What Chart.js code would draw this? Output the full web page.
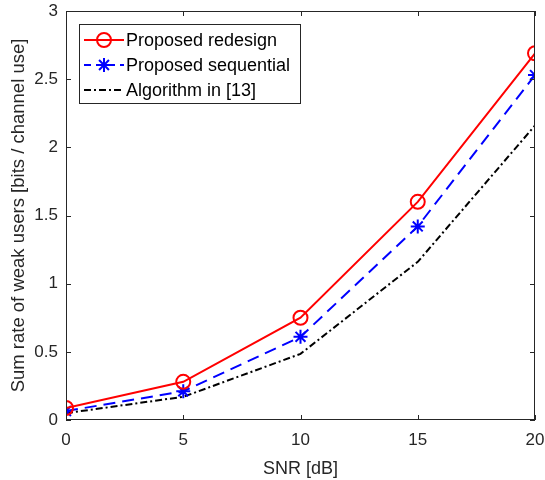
<!DOCTYPE html>
<html>
<head>
<meta charset="utf-8">
<script src="https://cdn.jsdelivr.net/npm/chart.js@4.4.1/dist/chart.umd.min.js"></script>
<style>
  html, body { margin: 0; padding: 0; background: #fff; }
  #wrap { width: 545px; height: 480px; }
</style>
</head>
<body>
<div id="wrap"><canvas id="snrChart"></canvas></div>
<script>
  const snr = [0, 5, 10, 15, 20];
  const proposedRedesign = [0.088, 0.28, 0.75, 1.60, 2.69];
  const proposedSequential = [0.066, 0.21, 0.61, 1.42, 2.53];
  const algorithm13 = [0.05, 0.17, 0.485, 1.16, 2.16];
  const xTicks = [0, 5, 10, 15, 20];
  const yTicks = [0, 0.5, 1, 1.5, 2, 2.5, 3];

  const axisColor = "#262626";
  const fontFamily = "'Liberation Sans', Arial, sans-serif";

  function toPoints(values) {
    return snr.map((x, i) => ({ x: x, y: values[i] }));
  }

  // box round the axes with ticks pointing inward on all four sides
  const boxPlugin = {
    id: "matlabBox",
    afterDraw(chart) {
      const { ctx, chartArea } = chart;
      const xs = chart.scales.x;
      const ys = chart.scales.y;
      const len = 5;
      ctx.save();
      ctx.strokeStyle = axisColor;
      ctx.lineWidth = 1;
      ctx.strokeRect(chartArea.left + 0.5, chartArea.top + 0.5,
        chartArea.right - chartArea.left - 1, chartArea.bottom - chartArea.top - 1);
      ctx.beginPath();
      xTicks.forEach(v => {
        const px = Math.round(xs.getPixelForValue(v)) + 0.5;
        ctx.moveTo(px, chartArea.bottom);
        ctx.lineTo(px, chartArea.bottom - len);
        ctx.moveTo(px, chartArea.top);
        ctx.lineTo(px, chartArea.top + len);
      });
      yTicks.forEach(v => {
        const py = Math.round(ys.getPixelForValue(v)) + 0.5;
        ctx.moveTo(chartArea.left, py);
        ctx.lineTo(chartArea.left + len, py);
        ctx.moveTo(chartArea.right, py);
        ctx.lineTo(chartArea.right - len, py);
      });
      ctx.stroke();
      ctx.restore();
    }
  };

  const legendPlugin = {
    id: "matlabLegend",
    afterDraw(chart) {
      const { ctx } = chart;
      const left = 79, top = 24, width = 221, height = 79;
      ctx.save();
      ctx.fillStyle = "#fff";
      ctx.fillRect(left, top, width, height);
      ctx.strokeStyle = axisColor;
      ctx.lineWidth = 1;
      ctx.strokeRect(left + 0.5, top + 0.5, width, height);

      const rows = [40, 65, 90];
      chart.data.datasets.forEach((ds, i) => {
        const y = rows[i];
        ctx.save();
        ctx.strokeStyle = ds.borderColor;
        ctx.lineWidth = ds.borderWidth;
        ctx.setLineDash(ds.legendDash || ds.borderDash || []);
        ctx.beginPath();
        ctx.moveTo(84, y);
        ctx.lineTo(124, y);
        ctx.stroke();
        ctx.setLineDash([]);
        if (ds.pointRadius > 0) {
          ctx.fillStyle = ds.pointBackgroundColor;
          ctx.lineWidth = ds.pointBorderWidth;
          ctx.strokeStyle = ds.pointBorderColor;
          Chart.helpers.drawPoint(ctx, {
            pointStyle: ds.pointStyle,
            radius: ds.pointRadius,
            borderWidth: ds.pointBorderWidth
          }, 104, y);
        }
        ctx.restore();
        ctx.fillStyle = "#000";
        ctx.font = "18px " + fontFamily;
        ctx.textAlign = "left";
        ctx.textBaseline = "middle";
        ctx.fillText(ds.label, 126, y + 1);
      });
      ctx.restore();
    }
  };

  new Chart(document.getElementById("snrChart"), {
    type: "line",
    data: {
      datasets: [
        {
          label: "Proposed redesign",
          data: toPoints(proposedRedesign),
          borderColor: "#ff0000",
          borderWidth: 2,
          pointStyle: "circle",
          pointRadius: 7,
          pointBorderWidth: 2,
          pointBorderColor: "#ff0000",
          pointBackgroundColor: "rgba(0,0,0,0)",
          tension: 0
        },
        {
          label: "Proposed sequential",
          data: toPoints(proposedSequential),
          borderColor: "#0000ff",
          borderWidth: 2,
          borderDash: [12, 7],
          legendDash: [7, 5],
          pointStyle: "star",
          pointRadius: 7,
          pointBorderWidth: 2,
          pointBorderColor: "#0000ff",
          pointBackgroundColor: "#0000ff",
          tension: 0
        },
        {
          label: "Algorithm in [13]",
          data: toPoints(algorithm13),
          borderColor: "#000000",
          borderWidth: 2,
          borderDash: [7, 3, 2, 3],
          pointRadius: 0,
          tension: 0
        }
      ]
    },
    options: {
      responsive: true,
      maintainAspectRatio: false,
      animation: false,
      layout: { padding: { top: 11, right: 10, left: 0, bottom: 0 } },
      plugins: {
        legend: { display: false },
        tooltip: { enabled: false }
      },
      scales: {
        x: {
          type: "linear",
          min: 0,
          max: 20,
          afterBuildTicks(scale) {
            scale.ticks = xTicks.map(v => ({ value: v }));
          },
          afterFit(scale) {
            scale.height = 60;
            scale.paddingLeft = 0;
            scale.paddingRight = 0;
          },
          grid: { display: false, drawTicks: false },
          border: { display: false },
          ticks: {
            color: axisColor,
            padding: 10,
            maxRotation: 0,
            font: { family: fontFamily, size: 17 },
            callback: v => String(v)
          },
          title: {
            display: true,
            text: "SNR [dB]",
            color: axisColor,
            padding: { top: 0, bottom: 0 },
            font: { family: fontFamily, size: 18 }
          }
        },
        y: {
          min: 0,
          max: 3,
          afterBuildTicks(scale) {
            scale.ticks = yTicks.map(v => ({ value: v }));
          },
          afterFit(scale) {
            scale.width = 66;
            scale.paddingTop = 0;
            scale.paddingBottom = 0;
          },
          grid: { display: false, drawTicks: false },
          border: { display: false },
          ticks: {
            color: axisColor,
            padding: 8,
            font: { family: fontFamily, size: 17 },
            callback: v => String(v)
          },
          title: {
            display: true,
            text: "Sum rate of weak users [bits / channel use]",
            color: axisColor,
            padding: { top: 8, bottom: 0 },
            font: { family: fontFamily, size: 18.5 }
          }
        }
      }
    },
    plugins: [boxPlugin, legendPlugin]
  });
</script>
</body>
</html>
